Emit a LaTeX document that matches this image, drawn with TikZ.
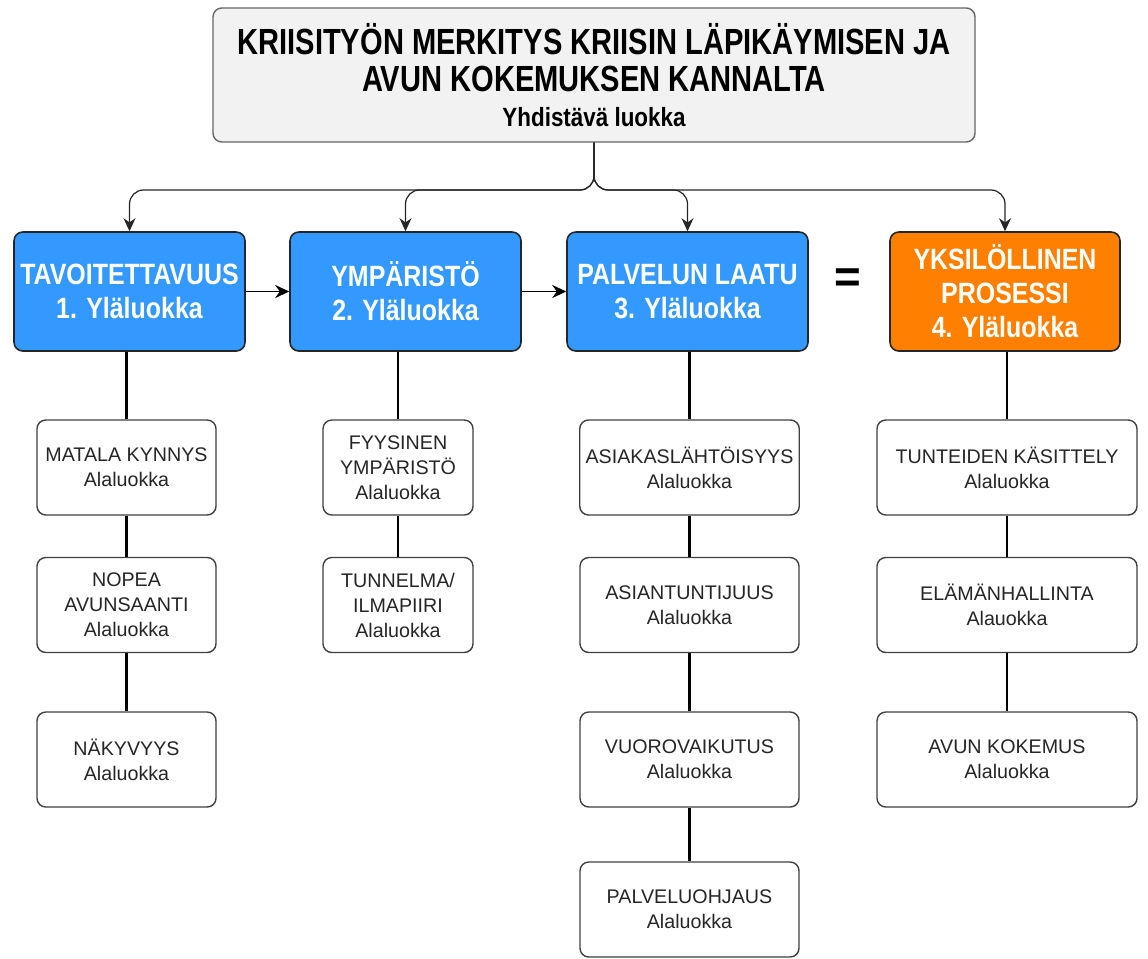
\documentclass[tikz,border=0pt]{standalone}
\usepackage{fontspec}
\setmainfont{Liberation Sans}
\newfontfamily\narrowfont[FakeStretch=0.85]{Liberation Sans}
\newfontfamily\titlefont[FakeStretch=0.8]{Liberation Sans}
\usepackage{xcolor}
\usepackage{tikz}
\usetikzlibrary{arrows.meta,positioning,calc}
\definecolor{catblue}{HTML}{3399FF}
\definecolor{catorange}{HTML}{FF8000}
\definecolor{headgray}{HTML}{F2F2F2}
\tikzset{
  head/.style={rectangle, draw=black!60, rounded corners=5pt, align=center,
               fill=headgray, line width=0.8pt, minimum width=15.24cm, minimum height=2.68cm,
               font=\titlefont\bfseries\fontsize{20.7}{21}\selectfont},
  cat/.style={rectangle, draw=black!85, rounded corners=5pt, align=center,
              fill=catblue, text=white, line width=0.9pt, minimum width=4.62cm,
              minimum height=2.38cm, font=\narrowfont\bfseries\fontsize{16.7}{19.4}\selectfont},
  catx/.style={cat, fill=catorange},
  sub/.style={rectangle, draw=black!75, rounded corners=5pt, align=center,
              fill=white, line width=0.8pt, minimum height=1.9cm,
              font=\fontsize{11.2}{14.2}\selectfont, text=black!85},
  fl/.style={-{Stealth[length=2.6mm, width=2.4mm]}, line width=0.7pt, black!85},
  hfl/.style={-{Stealth[length=2.8mm, width=2.6mm]}, line width=1.1pt},
  ln/.style={line width=1.2pt},
}

\begin{document}
\begin{tikzpicture}
\useasboundingbox (0,0) rectangle (22.96,-19.16);
% main class
\node[head] (top) at (11.88,-1.50) {KRIISITYÖN MERKITYS KRIISIN LÄPIKÄYMISEN JA\\AVUN KOKEMUKSEN KANNALTA\\[-1pt]{\narrowfont\fontsize{15}{17}\selectfont Yhdistävä luokka}};
\coordinate (hub) at (11.88,-3.80);
% upper classes
\node[cat] (b1) at (2.59,-5.83) {TAVOITETTAVUUS\\1. Yläluokka};
\node[cat] (b2) at (8.11,-5.83) {YMPÄRISTÖ\\2. Yläluokka};
\node[cat, minimum width=4.82cm] (b3) at (13.75,-5.83) {PALVELUN LAATU\\3. Yläluokka};
\node[catx, minimum width=4.60cm] (b4) at (20.10,-5.83) {YKSILÖLLINEN\\PROSESSI\\4. Yläluokka};
\node[font=\bfseries\fontsize{26}{26}\selectfont] (eq) at (16.96,-5.62) {=};
% sub classes
\node[sub, minimum width=3.58cm] (s11) at (2.53,-9.35) {MATALA KYNNYS\\Alaluokka};
\node[sub, minimum width=3.58cm] (s12) at (2.53,-12.10) {NOPEA\\AVUNSAANTI\\Alaluokka};
\node[sub, minimum width=3.58cm] (s13) at (2.53,-15.19) {NÄKYVYYS\\Alaluokka};
\node[sub, minimum width=3.00cm] (s21) at (7.96,-9.35) {FYYSINEN\\YMPÄRISTÖ\\Alaluokka};
\node[sub, minimum width=3.00cm] (s22) at (7.96,-12.10) {TUNNELMA/\\ILMAPIIRI\\Alaluokka};
\node[sub, minimum width=4.38cm] (s31) at (13.79,-9.35) {ASIAKASLÄHTÖISYYS\\Alaluokka};
\node[sub, minimum width=4.38cm] (s32) at (13.79,-12.10) {ASIANTUNTIJUUS\\Alaluokka};
\node[sub, minimum width=4.38cm] (s33) at (13.79,-15.19) {VUOROVAIKUTUS\\Alaluokka};
\node[sub, minimum width=4.38cm] (s34) at (13.79,-18.19) {PALVELUOHJAUS\\Alaluokka};
\node[sub, minimum width=5.20cm] (s41) at (20.14,-9.35) {TUNTEIDEN KÄSITTELY\\Alaluokka};
\node[sub, minimum width=5.20cm] (s42) at (20.14,-12.10) {ELÄMÄNHALLINTA\\Alauokka};
\node[sub, minimum width=5.20cm] (s43) at (20.14,-15.19) {AVUN KOKEMUS\\Alaluokka};
% branches
\draw[fl, rounded corners=8pt] (top.south) -- (hub) -| (b1.north);
\draw[fl, rounded corners=8pt] (top.south) -- (hub) -| (b2.north);
\draw[fl, rounded corners=8pt] (top.south) -- (hub) -| (b3.north);
\draw[fl, rounded corners=8pt] (top.south) -- (hub) -| (b4.north);
\draw[hfl] (b1) -- (b2);
\draw[hfl] (b2) -- (b3);
% columns
\draw[ln] (s11.north |- b1.south) -- (s11.north);
\draw[ln] (s11) -- (s12);
\draw[ln] (s12) -- (s13);
\draw[ln] (s21.north |- b2.south) -- (s21.north);
\draw[ln] (s21) -- (s22);
\draw[ln] (s31.north |- b3.south) -- (s31.north);
\draw[ln] (s31) -- (s32);
\draw[ln] (s32) -- (s33);
\draw[ln] (s33) -- (s34);
\draw[ln] (s41.north |- b4.south) -- (s41.north);
\draw[ln] (s41) -- (s42);
\draw[ln] (s42) -- (s43);
\end{tikzpicture}
\end{document}
